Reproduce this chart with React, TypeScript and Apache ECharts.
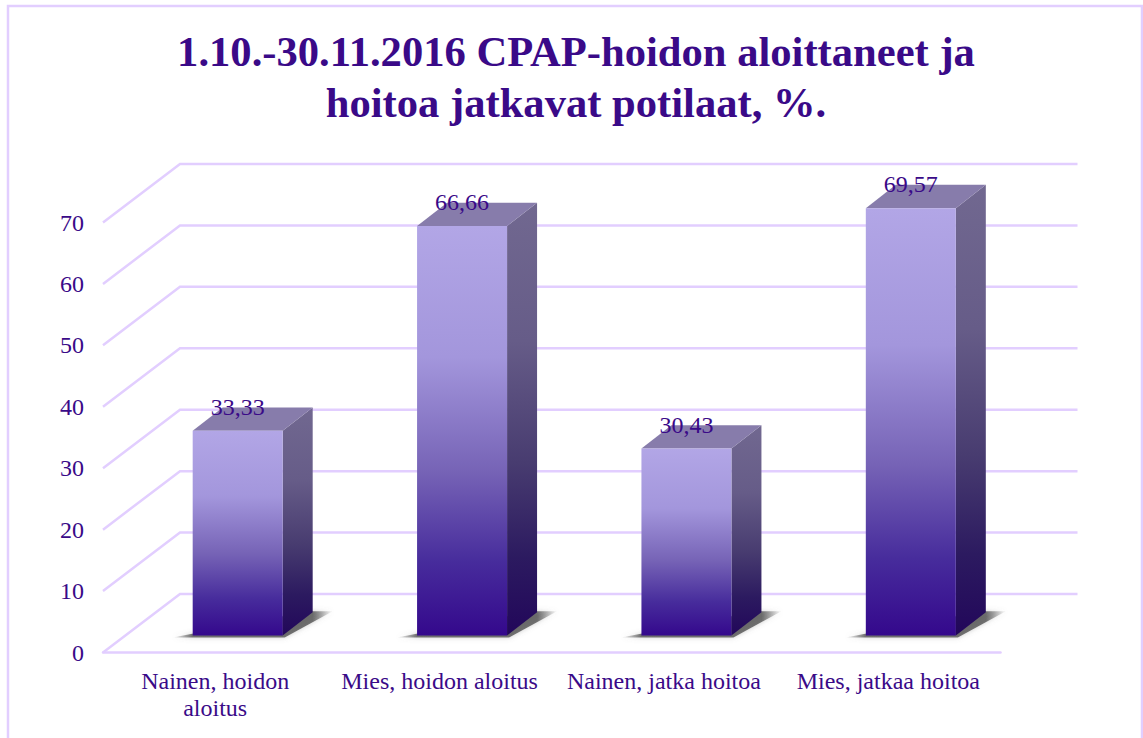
import React, { useEffect, useRef } from "react";
import * as echarts from "echarts";

const titleText = "1.10.-30.11.2016 CPAP-hoidon aloittaneet ja\nhoitoa jatkavat potilaat, %.";
const categories = ["Nainen, hoidon\naloitus", "Mies, hoidon aloitus", "Nainen, jatka hoitoa", "Mies, jatkaa hoitoa"];
const values = [33.33, 66.66, 30.43, 69.57];
const valueLabels = ["33,33", "66,66", "30,43", "69,57"];
const gridTicks = [0, 10, 20, 30, 40, 50, 60, 70];

const INK = "#3A0A88";
const LINE = "#E2CEFF";
const SERIF = "'Liberation Serif', serif";

// Pseudo-3D projection constants
const WALL_DX = 77;
const WALL_DY = -58.5;
const BAR_SHIFT_X = 22.5;
const BAR_SHIFT_Y = -17;
const BAR_W = 90;
const DEPTH_X = 30;
const DEPTH_Y = -23.3;
const SHADOW_FADE = 20;

const frontGradient = new echarts.graphic.LinearGradient(0, 0, 0, 1, [
  { offset: 0, color: "#B2A6E6" },
  { offset: 0.32, color: "#A396DC" },
  { offset: 0.6, color: "#7663B6" },
  { offset: 0.82, color: "#472C9C" },
  { offset: 1, color: "#34088C" },
]);
const sideGradient = new echarts.graphic.LinearGradient(0, 0, 0, 1, [
  { offset: 0, color: "#716890" },
  { offset: 0.32, color: "#665C88" },
  { offset: 0.6, color: "#483C70" },
  { offset: 0.82, color: "#2C1A60" },
  { offset: 1, color: "#22075A" },
]);
const shadowSpan = BAR_W + DEPTH_X + 2 * SHADOW_FADE;
const shadowGradient = new echarts.graphic.LinearGradient(0, 0, 1, 0, [
  { offset: 0, color: "rgba(70,70,70,0)" },
  { offset: SHADOW_FADE / shadowSpan, color: "rgba(70,70,70,0.75)" },
  { offset: 1 - SHADOW_FADE / shadowSpan, color: "rgba(70,70,70,0.75)" },
  { offset: 1, color: "rgba(70,70,70,0)" },
]);

function renderGridLine(params: any, api: any) {
  const rect = params.coordSys;
  const y = api.coord([0, api.value(1)])[1];
  const left = rect.x;
  const right = rect.x + rect.width;
  return {
    type: "polyline",
    shape: {
      points: [
        [left, y],
        [left + WALL_DX, y + WALL_DY],
        [right + WALL_DX, y + WALL_DY],
      ],
    },
    style: { stroke: LINE, lineWidth: 2.5, fill: "none" },
  };
}

function renderBar(params: any, api: any) {
  const i = params.dataIndex;
  const [cx, topY0] = api.coord([api.value(0), api.value(1)]);
  const [, bottomY0] = api.coord([api.value(0), 0]);
  const l = cx + BAR_SHIFT_X - BAR_W / 2;
  const r = l + BAR_W;
  const t = topY0 + BAR_SHIFT_Y;
  const b = bottomY0 + BAR_SHIFT_Y;
  return {
    type: "group",
    children: [
      {
        type: "polygon",
        shape: {
          points: [
            [l - SHADOW_FADE, b + 2],
            [r + 2, b + 2],
            [r + DEPTH_X + SHADOW_FADE, b + DEPTH_Y - 1],
            [r + DEPTH_X - 4, b + DEPTH_Y - 1],
          ],
        },
        style: { fill: shadowGradient, shadowBlur: 5, shadowColor: "rgba(120,120,120,0.5)" },
      },
      {
        type: "polygon",
        shape: { points: [[r, t], [r + DEPTH_X, t + DEPTH_Y], [r + DEPTH_X, b + DEPTH_Y], [r, b]] },
        style: { fill: sideGradient },
      },
      {
        type: "polygon",
        shape: { points: [[l, t], [l + DEPTH_X, t + DEPTH_Y], [r + DEPTH_X, t + DEPTH_Y], [r, t]] },
        style: { fill: "#877CAB" },
      },
      {
        type: "rect",
        shape: { x: l, y: t, width: BAR_W, height: b - t },
        style: { fill: frontGradient },
      },
      {
        type: "text",
        style: {
          x: cx + BAR_SHIFT_X,
          y: t - 24,
          text: valueLabels[i],
          fill: INK,
          font: `24px ${SERIF}`,
          align: "center",
          verticalAlign: "middle",
        },
      },
    ],
  };
}

export default function App() {
  const ref = useRef<HTMLDivElement>(null);
  useEffect(() => {
    document.body.style.margin = "0";
    document.body.style.overflow = "hidden";
    const chart = echarts.init(ref.current!, null, { renderer: "svg" });
    chart.setOption({
      animation: false,
      backgroundColor: "#FFFFFF",
      title: {
        text: titleText,
        left: 571,
        top: 21,
        textAlign: "center",
        textStyle: { color: INK, fontFamily: SERIF, fontWeight: "bold", fontSize: 42.6, lineHeight: 51 },
      },
      graphic: [
        {
          type: "rect",
          shape: { x: 8, y: 6, width: 1134, height: 760 },
          style: { fill: "none", stroke: LINE, lineWidth: 2.5 },
          silent: true,
        },
      ],
      grid: { left: 103, top: 222.5, width: 897.5, height: 430 },
      xAxis: {
        type: "category",
        data: categories,
        axisLine: { show: true, lineStyle: { color: LINE, width: 2.5 } },
        axisTick: { show: false },
        splitLine: { show: false },
        axisLabel: {
          color: INK,
          fontFamily: SERIF,
          fontSize: 24,
          lineHeight: 27,
          margin: 15,
          interval: 0,
        },
      },
      yAxis: {
        type: "value",
        min: 0,
        max: 70,
        interval: 10,
        axisLine: { show: false },
        axisTick: { show: false },
        splitLine: { show: false },
        axisLabel: { color: INK, fontFamily: SERIF, fontSize: 24, margin: 19 },
      },
      series: [
        {
          type: "custom",
          name: "grid",
          silent: true,
          z: 1,
          renderItem: renderGridLine,
          encode: { x: 0, y: 1 },
          data: gridTicks.map((t) => [0, t]),
        },
        {
          type: "custom",
          name: "bars",
          silent: true,
          z: 3,
          renderItem: renderBar,
          encode: { x: 0, y: 1 },
          data: values.map((v, i) => [i, v]),
        },
      ],
    });
    return () => chart.dispose();
  }, []);
  return <div ref={ref} style={{ width: 1143, height: 738 }} />;
}
